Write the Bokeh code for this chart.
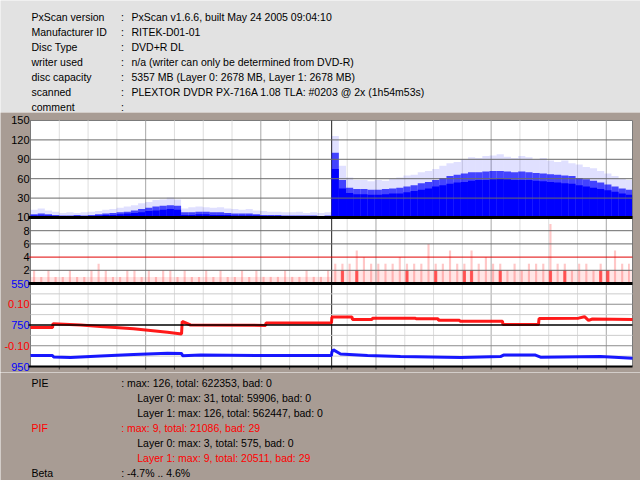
import numpy as np
from bokeh.plotting import figure
from bokeh.models import Range1d
from bokeh.layouts import column
from bokeh.embed import file_html
from bokeh.resources import INLINE
from bokeh.core.properties import value

# ---------------- header information ----------------
info_keys = ["PxScan version", "Manufacturer ID", "Disc Type", "writer used",
             "disc capacity", "scanned", "comment"]
info_vals = ["PxScan v1.6.6, built May 24 2005 09:04:10",
             "RITEK-D01-01",
             "DVD+R DL",
             "n/a (writer can only be determined from DVD-R)",
             "5357 MB (Layer 0: 2678 MB,  Layer 1: 2678 MB)",
             "PLEXTOR DVDR PX-716A 1.08 TLA: #0203 @ 2x (1h54m53s)",
             ""]

# ---------------- disc geometry (MB) ----------------
disc_total = 5357
layer_break = 2678
x_plot_end = 5353
grid_minor_mb = 256
grid_major_mb = 1024

# ---------------- PIE per bin (42 bins per layer) ----------------
pie_l0_core = [3, 3, 3, 2, 2, 2, 2, 2, 2, 3, 4, 4, 5, 6, 7, 8, 10, 11, 12, 13, 12,
               4, 4, 5, 5, 4, 4, 4, 3, 3, 3, 3, 2, 2, 2, 2, 2, 2, 1, 1, 1, 1]
pie_l0_mid = [5, 6, 5, 4, 3, 3, 4, 3, 4, 5, 6, 7, 8, 9, 11, 13, 15, 17, 18, 19, 18,
              8, 8, 9, 9, 8, 8, 7, 6, 6, 6, 5, 4, 4, 4, 3, 3, 3, 3, 3, 2, 3]
pie_l0_peak = [12, 14, 11, 9, 7, 8, 7, 8, 9, 10, 12, 13, 15, 17, 19, 22, 24, 27, 28, 31, 28,
               14, 16, 17, 16, 15, 16, 14, 13, 12, 13, 11, 10, 9, 9, 8, 8, 9, 7, 8, 7, 8]

pie_l1_core = [75, 45, 38, 36, 36, 35, 35, 36, 37, 37, 39, 41, 43, 45, 48, 50, 52, 54, 55, 57, 58,
               58, 59, 60, 59, 58, 58, 58, 57, 56, 55, 54, 53, 52, 50, 48, 46, 44, 42, 40, 37, 35]
pie_l1_mid = [100, 58, 46, 44, 44, 43, 43, 44, 45, 46, 48, 50, 53, 55, 58, 61, 64, 66, 68, 70, 70,
              71, 72, 72, 71, 70, 71, 70, 69, 68, 67, 66, 65, 64, 61, 59, 57, 54, 51, 48, 45, 43]
pie_l1_peak = [126, 80, 62, 58, 58, 56, 58, 57, 60, 62, 65, 66, 70, 72, 75, 80, 84, 86, 90, 93, 92,
               95, 96, 98, 94, 92, 95, 93, 90, 92, 88, 86, 88, 84, 82, 78, 76, 72, 68, 64, 60, 58]

# ---------------- PIF per bin ----------------
pif_l0_max = [2, 1, 2, 1, 1, 2, 1, 1, 2, 3, 2, 1, 1, 2, 2, 1, 2, 1, 2, 2, 1,
              2, 1, 1, 2, 1, 2, 1, 1, 2, 1, 2, 1, 1, 1, 2, 1, 1, 2, 1, 1, 2]
pif_l0_typ = [1, 1, 1, 1, 1, 1, 1, 1, 1, 1, 1, 1, 1, 1, 1, 1, 1, 1, 1, 1, 1,
              1, 1, 1, 1, 1, 1, 1, 1, 1, 1, 1, 1, 1, 1, 1, 1, 1, 1, 1, 1, 1]
pif_l1_max = [3, 3, 3, 5, 4, 3, 3, 3, 3, 4, 3, 3, 3, 6, 3, 3, 5, 3, 3, 5, 3,
              4, 3, 3, 2, 3, 2, 3, 3, 3, 9, 3, 3, 2, 3, 3, 2, 3, 2, 5, 3, 3]
pif_l1_typ = [2, 2, 2, 2, 2, 2, 2, 2, 2, 2, 2, 2, 2, 2, 2, 2, 2, 2, 2, 2, 2,
              2, 2, 2, 2, 2, 2, 2, 2, 2, 2, 2, 2, 2, 2, 2, 2, 2, 2, 2, 2, 2]
pif_l1_dense = [0, 1, 0, 1, 0, 0, 0, 0, 0, 0, 1, 0, 0, 0, 1, 0, 0, 0, 1, 1, 0,
                0, 0, 1, 0, 0, 0, 0, 0, 0, 1, 0, 1, 0, 0, 0, 0, 1, 1, 0, 0, 0]

# ---------------- Beta (red) and jitter (blue) ----------------
beta_mb = [0, 196, 200, 445, 622, 916, 1218, 1343, 1349, 1423, 2090, 2094, 2676,
           2680, 2859, 2863, 3037, 3041, 3423, 3428, 3624, 3628, 3815, 3819, 4197,
           4201, 4517, 4522, 4873, 4926, 4962, 4997, 5353]
beta_val = [-0.012, -0.012, 0.006, 0.000, -0.007, -0.018, -0.035, -0.043, 0.017, 0.000,
            -0.002, 0.010, 0.010, 0.038, 0.038, 0.027, 0.027, 0.033, 0.033, 0.030,
            0.030, 0.023, 0.023, 0.018, 0.018, 0.002, 0.002, 0.031, 0.033, 0.040,
            0.022, 0.029, 0.027]
jit_mb = [0, 196, 205, 356, 622, 916, 1218, 1343, 1352, 1512, 2045, 2676,
          2680, 2694, 2757, 2997, 3290, 3824, 4179, 4206, 4490, 4535, 5068, 5353]
jit_val = [897, 897, 904, 907, 899, 892, 886, 887, 898, 895, 897, 897,
           880, 870, 890, 897, 902, 907, 902, 895, 895, 905, 902, 910]

# ---------------- axis labels ----------------
pie_ticks = [30, 60, 90, 120, 150]
pif_ticks = [2, 4, 6, 8, 10]
jit_ticks = [550, 750, 950]
beta_ticks = [0.10, -0.10]
beta_minor = [0.15, 0.05, -0.05, -0.15]

# ---------------- statistics ----------------
stats_keys = ["PIE", "", "", "PIF", "", "", "Beta"]
stats_vals = [": max: 126, total: 622353, bad: 0",
              "Layer 0: max: 31, total: 59906, bad: 0",
              "Layer 1: max: 126, total: 562447, bad: 0",
              ": max: 9, total: 21086, bad: 29",
              "Layer 0: max: 3, total: 575, bad: 0",
              "Layer 1: max: 9, total: 20511, bad: 29",
              ": -4.7% .. 4.6%"]
stats_red = [False, False, False, True, False, True, False]
stats_indent = [False, True, True, False, True, True, False]

# ================= styling / layout constants =================
BROWN = "#a89c94"
HEAD_BG = "#e2e2e2"
FONT = "Liberation Sans"
TXT = "10.5px"
W = 640
HEAD_H, MAIN_H, STAT_H = 112, 260, 108
MB_PER_PX = x_plot_end / 602.0      # plot area is 602 px wide
LEFT_PX = 30                        # plot area starts 30 px from the left


def bare(fig):
    fig.xgrid.visible = False
    fig.ygrid.visible = False
    return fig


# ---------------- header figure ----------------
head = bare(figure(width=W, height=HEAD_H, x_range=Range1d(0, W), y_range=Range1d(HEAD_H, 0),
                   output_backend="svg", toolbar_location=None, min_border=0,
                   background_fill_color=HEAD_BG, border_fill_color=HEAD_BG,
                   outline_line_color=None, x_axis_type=None, y_axis_type=None))
hy = [16.6 + 15 * i for i in range(len(info_keys))]
n_info = len(info_keys)
head.text(x=[31] * n_info, y=hy, text=info_keys, text_font=value(FONT),
          text_font_size=value(TXT), text_baseline="alphabetic", text_color="black")
head.text(x=[120.5] * n_info, y=hy, text=[":"] * n_info, text_font=value(FONT),
          text_font_size=value(TXT), text_baseline="alphabetic", text_color="black")
head.text(x=[131] * n_info, y=hy, text=info_vals, text_font=value(FONT),
          text_font_size=value(TXT), text_baseline="alphabetic", text_color="black")

# ---------------- main chart ----------------
# the frame covers the whole main band (page y 112..372); each panel gets its own range
pie_rng = Range1d(-239.68, 162.37)      # 150 at the panel top, 0 at the PIE/PIF border
pif_rng = Range1d(-13.485, 25.909)      # 10 at the PIE/PIF border, 0 at the PIF/beta border
beta_rng = Range1d(-0.22892, 1.02410)   # +-0.2 at the beta panel edges
jit_rng = Range1d(978.9, -274.1)        # 550 at top of beta panel, 950 at its bottom

p = bare(figure(width=W, height=MAIN_H,
                x_range=Range1d(-LEFT_PX * MB_PER_PX, (W - LEFT_PX) * MB_PER_PX),
                y_range=pie_rng, output_backend="svg", toolbar_location=None,
                min_border=0, background_fill_color=BROWN, border_fill_color=BROWN,
                outline_line_color=None, x_axis_type=None, y_axis_type=None))
p.extra_y_ranges = {"pif": pif_rng, "beta": beta_rng, "jit": jit_rng}


def conv(v, src, dst):
    return dst.start + (v - src.start) / (src.end - src.start) * (dst.end - dst.start)


def px(rng, n):
    return n * (rng.end - rng.start) / MAIN_H


plot_top = pie_ticks[-1]
plot_bot = conv(-0.2, beta_rng, pie_rng)

# white plot area with grey outline
p.quad(left=[0], right=[x_plot_end], top=[plot_top], bottom=[plot_bot],
       fill_color="white", line_color="#7a7a7a", line_width=1, level="image")

# vertical grid lines
vg = list(range(grid_minor_mb, x_plot_end, grid_minor_mb))
vg_col = ["#a8a8a8" if mb % grid_major_mb == 0 else "#dedede" for mb in vg]
p.segment(x0=vg, y0=[plot_top] * len(vg), x1=vg, y1=[plot_bot] * len(vg),
          line_color=vg_col, line_width=1, level="underlay")
p.segment(x0=[layer_break], y0=[plot_top], x1=[layer_break], y1=[plot_bot],
          line_color="#202020", line_width=1, level="underlay")

# bottom tick marks
bt = vg + [layer_break]
p.segment(x0=bt, y0=[-0.2] * len(bt), x1=bt, y1=[-0.2 - px(beta_rng, 3)] * len(bt),
          y_range_name="beta", line_color="#404040", line_width=1)

# beta panel light grid
tick_x0 = -2 * MB_PER_PX
for vals, col in ((beta_minor, "#cccccc"), (beta_ticks, "#8c8c8c")):
    p.segment(x0=[0] * len(vals), y0=vals, x1=[x_plot_end] * len(vals), y1=vals,
              y_range_name="beta", line_color=col, line_width=1, level="underlay")

# ---- PIE bars ----
n0 = len(pie_l0_core)
n1 = len(pie_l1_core)
step0 = layer_break / n0
step1 = (disc_total - layer_break) / n1
x0 = (np.arange(n0) + 0.5) * step0
x1 = layer_break + (np.arange(n1) + 0.5) * step1
xs = np.concatenate([x0, x1])
ws = np.concatenate([np.full(n0, step0), np.full(n1, step1)])
ws[-1] = ws[-1] - 2 * (disc_total - x_plot_end)   # keep last bar inside the plot area
xs[-1] = xs[-1] - (disc_total - x_plot_end)
p.vbar(x=xs, top=pie_l0_peak + pie_l1_peak, bottom=0, width=ws,
       fill_color="#0000ff", fill_alpha=0.12, line_color=None)
p.vbar(x=xs, top=pie_l0_mid + pie_l1_mid, bottom=0, width=ws,
       fill_color="#0000ff", fill_alpha=0.7, line_color=None)
p.vbar(x=xs, top=pie_l0_core + pie_l1_core, bottom=0, width=ws,
       fill_color="#0000ff", fill_alpha=1.0, line_color=None)

# ---- PIF bars ----
p.vbar(x=xs, top=pif_l0_typ + pif_l1_typ, bottom=0, width=ws, y_range_name="pif",
       fill_color="#ff0000", fill_alpha=0.10, line_color=None)
p.vbar(x=xs, top=pif_l0_max + pif_l1_max, bottom=0, width=ws * 0.3, y_range_name="pif",
       fill_color="#ff0000", fill_alpha=0.22, line_color=None)
dense = np.array([0] * n0 + pif_l1_dense) > 0
p.vbar(x=xs[dense], top=np.array(pif_l0_typ + pif_l1_typ)[dense], bottom=0,
       width=ws[dense] * 0.45, y_range_name="pif",
       fill_color="#ff0000", fill_alpha=0.55, line_color=None)

# ---- horizontal lines PIE / PIF ----
pg = pie_ticks[:-1]
p.segment(x0=[tick_x0] * len(pg), y0=pg, x1=[x_plot_end] * len(pg), y1=pg,
          line_color="#6a6a6a", line_width=1, level="overlay")
p.segment(x0=[tick_x0], y0=[pie_ticks[-1]], x1=[0], y1=[pie_ticks[-1]],
          line_color="#6a6a6a", line_width=1, level="overlay")
fg = pif_ticks[:-1]
fg_col = ["#e00000" if v == 4 else "#6a6a6a" for v in fg]
p.segment(x0=[tick_x0] * len(fg), y0=fg, x1=[x_plot_end] * len(fg), y1=fg,
          y_range_name="pif", line_color=fg_col, line_width=1, level="overlay")
p.segment(x0=[tick_x0], y0=[0], x1=[x_plot_end], y1=[0],
          line_color="black", line_width=3, level="overlay")
p.segment(x0=[tick_x0], y0=[0], x1=[x_plot_end], y1=[0], y_range_name="pif",
          line_color="black", line_width=3, level="overlay")

# ---- beta / jitter lines ----
p.line(x=jit_mb, y=jit_val, y_range_name="jit", line_color="#0000ff", line_width=3,
       line_alpha=0.9)
p.line(x=beta_mb, y=beta_val, y_range_name="beta", line_color="#ff0000", line_width=3,
       line_alpha=0.9)
p.segment(x0=[tick_x0], y0=[0], x1=[x_plot_end], y1=[0], y_range_name="beta",
          line_color="black", line_width=1.5, level="overlay")
p.segment(x0=[tick_x0], y0=[-0.2], x1=[x_plot_end], y1=[-0.2], y_range_name="beta",
          line_color="black", line_width=2, level="overlay")

# ---- left tick labels ----
lab_kw = dict(text_align="right", text_baseline="middle", x_offset=-1,
              text_font=value(FONT), text_font_size=value("11px"))
p.text(x=[0] * len(pie_ticks[:-1]), y=pie_ticks[:-1], text=[str(v) for v in pie_ticks[:-1]],
       text_color="black", **lab_kw)
p.text(x=[0], y=[pie_ticks[-1]], text=[str(pie_ticks[-1])], text_color="black", **lab_kw)
p.text(x=[0] * len(pif_ticks), y=pif_ticks, text=[str(v) for v in pif_ticks],
       y_range_name="pif", text_color="black", **lab_kw)
p.text(x=[0] * len(jit_ticks), y=jit_ticks, text=[str(v) for v in jit_ticks],
       y_range_name="jit", text_color="#0000ff", **lab_kw)
p.text(x=[0] * len(beta_ticks), y=beta_ticks, text=["%.2f" % v for v in beta_ticks],
       y_range_name="beta", text_color="#ff0000", **lab_kw)

# ---------------- statistics figure ----------------
st = bare(figure(width=W, height=STAT_H, x_range=Range1d(0, W), y_range=Range1d(STAT_H, 0),
                 output_backend="svg", toolbar_location=None, min_border=0,
                 background_fill_color=BROWN, border_fill_color=BROWN,
                 outline_line_color=None, x_axis_type=None, y_axis_type=None))
sy = [10.3 + 15 * i for i in range(len(stats_keys))]
scol = ["#ff0000" if r else "black" for r in stats_red]
sx = [136.7 if ind else 120.7 for ind in stats_indent]
st.text(x=[31] * len(stats_keys), y=sy, text=stats_keys, text_color=scol,
        text_font=value(FONT), text_font_size=value(TXT), text_baseline="alphabetic")
st.text(x=sx, y=sy, text=stats_vals, text_color=scol,
        text_font=value(FONT), text_font_size=value(TXT), text_baseline="alphabetic")

layout = column(head, p, st, spacing=0)
open("out.html", "w").write(file_html(layout, INLINE))
